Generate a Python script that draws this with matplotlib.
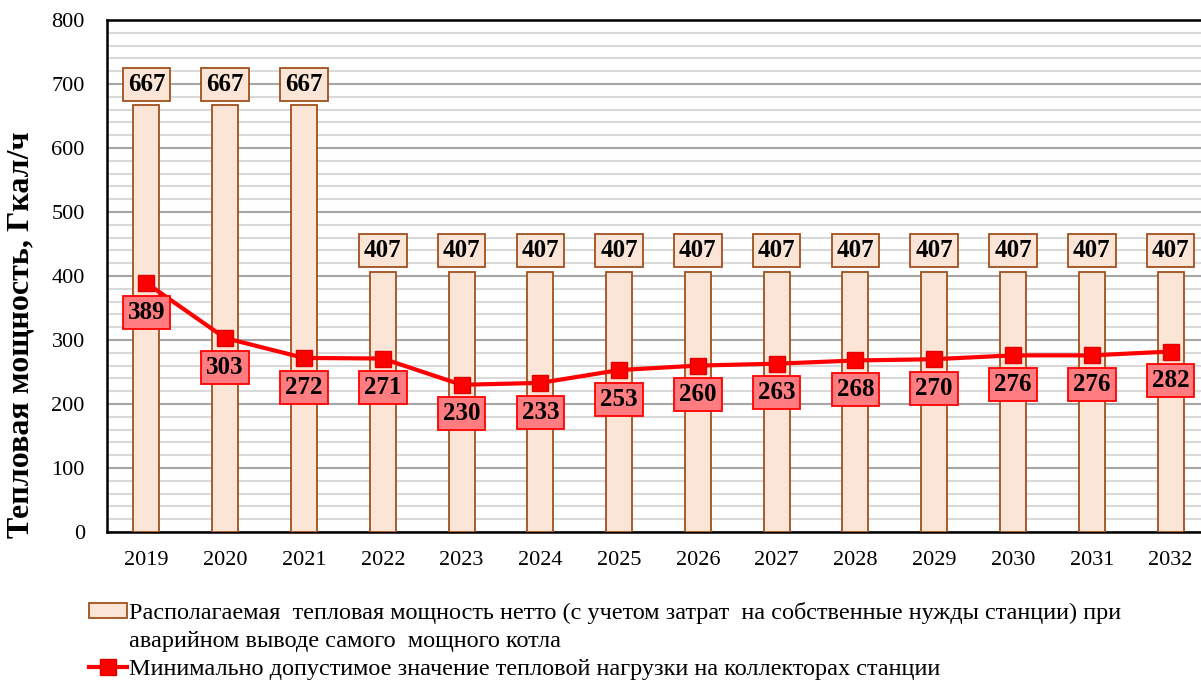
import matplotlib
matplotlib.use("Agg")
import matplotlib.pyplot as plt
from matplotlib.ticker import MultipleLocator
from matplotlib.patches import Rectangle

years = ["2019", "2020", "2021", "2022", "2023", "2024", "2025",
         "2026", "2027", "2028", "2029", "2030", "2031", "2032"]
capacity = [667, 667, 667, 407, 407, 407, 407, 407, 407, 407, 407, 407, 407, 407]
min_load = [389, 303, 272, 271, 230, 233, 253, 260, 263, 268, 270, 276, 276, 282]

label_cap_1 = "Располагаемая  тепловая мощность нетто (с учетом затрат  на собственные нужды станции) при"
label_cap_2 = "аварийном выводе самого  мощного котла"
label_min = "Минимально допустимое значение тепловой нагрузки на коллекторах станции"

plt.rcParams['font.family'] = ['Liberation Serif', 'DejaVu Serif']

fig = plt.figure(figsize=(12.01, 6.86), dpi=100)
ax = fig.add_axes([107/1201, 1 - 532/686, (1210 - 107)/1201, (532 - 20)/686])

x = list(range(len(years)))

# bars
bars = ax.bar(x, capacity, width=0.33, color='#FBE5D6', edgecolor='#A0501E',
              linewidth=1.3, zorder=3)

# line
line, = ax.plot(x, min_load, color='#FF0000', lw=3, marker='s', markersize=11,
                markerfacecolor='#FF0000', markeredgecolor='#E00000', zorder=5)

# data labels
for xi, v in zip(x, capacity):
    ax.annotate(str(v), (xi, v), xytext=(0, 15), textcoords='offset points',
                ha='center', va='center', fontsize=18, fontweight='bold',
                bbox=dict(boxstyle='square,pad=0.2', fc='#FBE5D6', ec='#A0501E', lw=1.3),
                zorder=6)
for xi, v in zip(x, min_load):
    ax.annotate(str(v), (xi, v), xytext=(0, -21), textcoords='offset points',
                ha='center', va='center', fontsize=18, fontweight='bold',
                bbox=dict(boxstyle='square,pad=0.2', fc='#FF7C80', ec='#FF0000', lw=1.3),
                zorder=6)

ax.set_xlim(-0.5, len(years) - 0.5)
ax.set_ylim(0, 800)
ax.set_xticks(x)
ax.set_xticklabels(years, fontsize=16)
ax.yaxis.set_major_locator(MultipleLocator(100))
ax.yaxis.set_minor_locator(MultipleLocator(20))
ax.tick_params(axis='y', which='both', length=0, labelsize=16, pad=16)
ax.tick_params(axis='x', length=0, pad=14)
ax.grid(axis='y', which='major', color='#A6A6A6', lw=1.5, zorder=0)
ax.grid(axis='y', which='minor', color='#D9D9D9', lw=1.5, zorder=0)
ax.set_axisbelow(True)

for s in ['left', 'top', 'bottom']:
    ax.spines[s].set_color('black')
    ax.spines[s].set_linewidth(1.8)
ax.spines['right'].set_visible(False)

ax.set_ylabel("Тепловая мощность, Гкал/ч", fontsize=23, fontweight='bold')
ax.yaxis.set_label_coords(-0.065, 0.385)

# legend: bar label split over two rows so the patch sits by the first line
blank = Rectangle((0, 0), 1, 1, visible=False)
fig.legend([bars, blank, line], [label_cap_1, label_cap_2, label_min],
           loc='upper left', bbox_to_anchor=(67/1201, 1 - 580/686), frameon=False,
           fontsize=17.5, handlelength=1.55, handleheight=0.55,
           handletextpad=0.1, labelspacing=0.3)

fig.savefig("out.png", dpi=100)
